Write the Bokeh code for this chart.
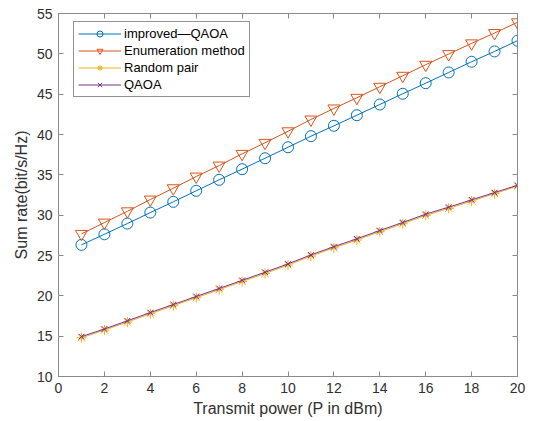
from bokeh.plotting import figure
from bokeh.models import Range1d, LinearAxis, FixedTicker, Legend, LegendItem
from bokeh.embed import file_html
from bokeh.resources import INLINE

power = list(range(1, 21))
improved_qaoa = [26.32, 27.63, 28.96, 30.32, 31.65, 33.02, 34.38, 35.70, 37.06, 38.42,
                 39.79, 41.08, 42.39, 43.72, 45.05, 46.36, 47.69, 49.02, 50.30, 51.63]
enumeration = [27.68, 29.08, 30.48, 31.94, 33.34, 34.79, 36.15, 37.60, 38.97, 40.40,
               41.86, 43.23, 44.55, 45.92, 47.28, 48.65, 49.97, 51.30, 52.58, 53.91]
random_pair = [14.80, 15.75, 16.75, 17.78, 18.77, 19.77, 20.76, 21.77, 22.77, 23.81,
               24.92, 25.95, 26.92, 27.95, 28.94, 29.97, 30.84, 31.75, 32.67, 33.60]
qaoa = [14.94, 15.89, 16.90, 17.93, 18.92, 19.92, 20.91, 21.92, 22.92, 23.96,
        25.07, 26.10, 27.07, 28.10, 29.09, 30.12, 30.99, 31.90, 32.80, 33.71]

x_ticks = list(range(0, 21, 2))
y_ticks = list(range(10, 56, 5))

FONT = "Liberation Sans"
AXC = "#8a8a8a"
TXT = "#303030"

p = figure(width=538, height=421, output_backend="svg", toolbar_location=None,
           x_range=Range1d(0, 20), y_range=Range1d(10, 55),
           min_border_left=58, min_border_right=21, min_border_top=13, min_border_bottom=45)
p.xgrid.visible = False
p.ygrid.visible = False
p.outline_line_color = AXC
p.outline_line_width = 1

def style_axis(ax, labels=True):
    ax.axis_line_color = AXC
    ax.major_tick_line_color = AXC
    ax.minor_tick_line_color = None
    ax.major_tick_in = 5
    ax.major_tick_out = 0
    ax.major_label_text_font = FONT
    ax.axis_label_text_font = FONT
    ax.axis_label_text_color = TXT
    ax.axis_label_text_font_style = "normal"
    if labels:
        ax.major_label_text_color = TXT
        ax.major_label_text_font_size = "14px"
        ax.axis_label_text_font_size = "16px"
        ax.major_label_standoff = 6
        ax.axis_label_standoff = 4
    else:
        ax.major_label_text_color = None
        ax.major_label_text_font_size = "1px"
        ax.major_label_standoff = 0

p.xaxis.ticker = FixedTicker(ticks=x_ticks)
p.yaxis.ticker = FixedTicker(ticks=y_ticks)
p.xaxis.axis_label = "Transmit power (P in dBm)"
p.yaxis.axis_label = "Sum rate(bit/s/Hz)"
style_axis(p.xaxis[0])
style_axis(p.yaxis[0])

top_ax = LinearAxis(ticker=FixedTicker(ticks=x_ticks))
right_ax = LinearAxis(ticker=FixedTicker(ticks=y_ticks))
style_axis(top_ax, labels=False)
style_axis(right_ax, labels=False)
p.add_layout(top_ax, "above")
p.add_layout(right_ax, "right")

BLUE = "#0072BD"
ORANGE = "#D95319"
YELLOW = "#EDB120"
PURPLE = "#7E2F8E"

l1 = p.line(power, improved_qaoa, line_color=BLUE, line_width=1)
m1 = p.scatter(power, improved_qaoa, marker="circle", size=11, fill_color=None,
               line_color=BLUE, line_width=1)
l2 = p.line(power, enumeration, line_color=ORANGE, line_width=1)
m2 = p.scatter(power, enumeration, marker="inverted_triangle", size=12, fill_color=None,
               line_color=ORANGE, line_width=1)
l3 = p.line(power, random_pair, line_color=YELLOW, line_width=1)
m3 = p.scatter(power, random_pair, marker="asterisk", size=10, line_color=YELLOW, line_width=1)
l4 = p.line(power, qaoa, line_color=PURPLE, line_width=1)
m4 = p.scatter(power, qaoa, marker="x", size=8, line_color=PURPLE, line_width=1)

legend = Legend(items=[
    LegendItem(label="improved\u2014QAOA", renderers=[l1, m1]),
    LegendItem(label="Enumeration method", renderers=[l2, m2]),
    LegendItem(label="Random pair", renderers=[l3, m3]),
    LegendItem(label="QAOA", renderers=[l4, m4]),
], location=(15, 279))
legend.label_text_font = FONT
legend.label_text_font_size = "13px"
legend.label_text_color = "#000000"
legend.label_height = 15
legend.glyph_height = 15
legend.glyph_width = 43
legend.label_standoff = 3
legend.spacing = 2
legend.padding = 4
legend.margin = 0
legend.border_line_color = "#262626"
legend.border_line_width = 1
legend.background_fill_color = "white"
legend.background_fill_alpha = 1
p.add_layout(legend, "center")

open("out.html", "w").write(file_html(p, INLINE))
